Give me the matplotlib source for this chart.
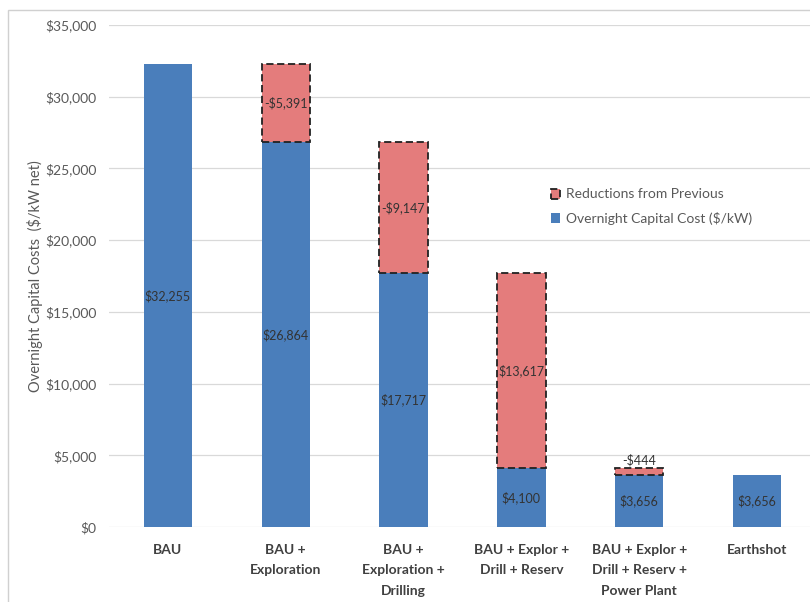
import matplotlib
matplotlib.use('Agg')
import matplotlib.pyplot as plt
from matplotlib.patches import Rectangle
import numpy as np

categories = ['BAU', 'BAU +\nExploration', 'BAU +\nExploration +\nDrilling',
              'BAU + Explor +\nDrill + Reserv', 'BAU + Explor +\nDrill + Reserv +\nPower Plant',
              'Earthshot']
cost = [32255, 26864, 17717, 4100, 3656, 3656]
reduction = [0, 5391, 9147, 13617, 444, 0]
cost_labels = ['$32,255', '$26,864', '$17,717', '$4,100', '$3,656', '$3,656']
red_labels = ['', '-$5,391', '-$9,147', '$13,617', '-$444', '']
yticks = [0, 5000, 10000, 15000, 20000, 25000, 30000, 35000]

blue = '#4A7EBB'
red = '#E47C7C'
txt = '#404040'

plt.rcParams['font.family'] = ['Lato', 'DejaVu Sans']

fig = plt.figure(figsize=(8.1, 6.02), dpi=100)
fig.patches.append(Rectangle((8/810, -0.1), 1.1, 1 - 10/602 + 0.1, transform=fig.transFigure,
                             facecolor='white', edgecolor='#D0D0D0', lw=1, zorder=-10))
ax = fig.add_axes([109/810, 1 - 527/602, 1 - 109/810, (527 - 25)/602])
ax.set_facecolor('none')
x = np.arange(len(categories))
w = 0.41

ax.bar(x, cost, width=w, color=blue, zorder=3, label='Overnight Capital Cost ($/kW)')
mask = [r > 0 for r in reduction]
ax.bar(x[mask], np.array(reduction)[mask], bottom=np.array(cost)[mask], width=w,
       color=red, edgecolor='#222222', linestyle=(0, (4, 2)), linewidth=1.3, zorder=3,
       label='Reductions from Previous')

for i in range(len(categories)):
    ax.text(x[i], cost[i] / 2, cost_labels[i], ha='center', va='center',
            fontsize=9, color='#333333', zorder=4)
    if reduction[i] > 0:
        if reduction[i] > 2000:
            ax.text(x[i], cost[i] + reduction[i] / 2, red_labels[i], ha='center', va='center',
                    fontsize=9, color='#333333', zorder=4)
        else:
            ax.text(x[i], cost[i] + reduction[i] + 150, red_labels[i], ha='center', va='bottom',
                    fontsize=9, color='#333333', zorder=4)

ax.set_ylim(0, 35000)
ax.set_xlim(-0.5, 5.45)
ax.set_yticks(yticks)
ax.set_yticklabels(['${:,}'.format(v) for v in yticks], color='#595959', fontsize=10)
ax.set_xticks(x)
ax.set_xticklabels(categories, fontsize=10, color=txt, linespacing=1.85, fontweight='bold')
ax.tick_params(axis='both', length=0)
ax.tick_params(axis='x', pad=12)
ax.tick_params(axis='y', pad=9)
ax.grid(axis='y', color='#D9D9D9', linewidth=0.9, zorder=0)
for s in ax.spines.values():
    s.set_visible(False)
ax.set_ylabel('Overnight Capital Costs  ($/kW net)', fontsize=10.5, color='#595959')
ax.yaxis.set_label_coords(-0.094, 0.5)

h, l = ax.get_legend_handles_labels()
leg = ax.legend(h[::-1], l[::-1], loc='upper left', bbox_to_anchor=(538/810, 1 - 176/602),
                bbox_transform=fig.transFigure, frameon=False, fontsize=10,
                handlelength=0.7, handleheight=0.7, handletextpad=0.4, labelspacing=0.8)
for t in leg.get_texts():
    t.set_color('#595959')

fig.savefig('out.png', dpi=100)
